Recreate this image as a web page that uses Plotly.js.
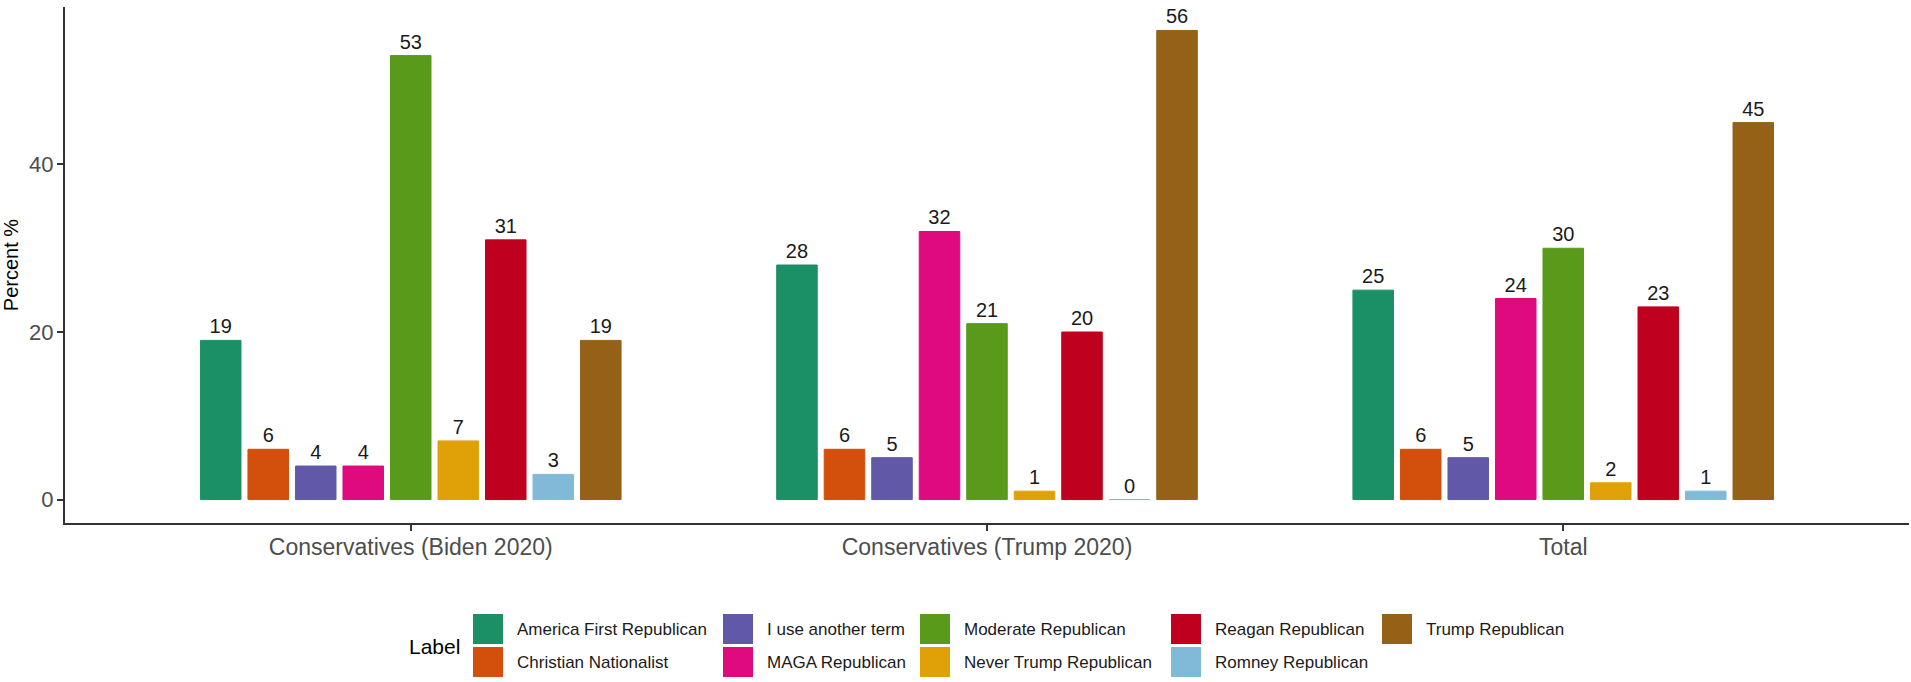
<!DOCTYPE html>
<html><head><meta charset="utf-8">
<script src="https://cdn.plot.ly/plotly-3.0.1.min.js"></script>
<style>html,body{margin:0;padding:0;background:#fff;} #chart{width:1911px;height:682px;}</style>
</head><body><div id="chart"></div>
<script>
// ---- data ----
const groups = ['Conservatives (Biden 2020)', 'Conservatives (Trump 2020)', 'Total'];
const labels = ['America First Republican', 'Christian Nationalist', 'I use another term',
  'MAGA Republican', 'Moderate Republican', 'Never Trump Republican',
  'Reagan Republican', 'Romney Republican', 'Trump Republican'];
const americaFirst = [19, 28, 25];
const christianNationalist = [6, 6, 6];
const anotherTerm = [4, 5, 5];
const maga = [4, 32, 24];
const moderate = [53, 21, 30];
const neverTrump = [7, 1, 2];
const reagan = [31, 20, 23];
const romney = [3, 0, 1];
const trump = [19, 56, 45];
const yTicks = [0, 20, 40];
const series = [americaFirst, christianNationalist, anotherTerm, maga, moderate, neverTrump, reagan, romney, trump];

// ---- styles ----
const colors = ['#1b8f66', '#d24f0c', '#6159a7', '#de0a7e', '#5a9a1a', '#e0a108', '#c0001f', '#80bad8', '#946117'];
const FONT = 'Liberation Sans, Arial, Helvetica, sans-serif';
const W = 1911, H = 682;
const M = {l: 65, r: 2, t: 7, b: 159};
const PW = W - M.l - M.r, PH = H - M.t - M.b;
const px = x => (x - M.l) / PW;
const py = y => (H - M.b - y) / PH;

const traces = series.map((vals, i) => ({
  type: 'bar',
  name: labels[i],
  x: groups,
  y: vals,
  marker: {color: colors[i], line: {color: colors[i], width: 1}},
  text: vals.map(String),
  textposition: 'outside',
  textfont: {family: FONT, size: 20, color: '#1a1a1a'},
  cliponaxis: false,
  showlegend: false,
  hoverinfo: 'x+y+name'
}));

// manual ggplot-style legend (column-major, 2 rows)
const colStarts = [473, 723, 920, 1171, 1382];
const rowTops = [614, 647];
const key = 30;
const shapes = [], annotations = [];
labels.forEach((lab, i) => {
  const cx = colStarts[Math.floor(i / 2)];
  const ry = rowTops[i % 2];
  shapes.push({type: 'rect', xref: 'paper', yref: 'paper',
    x0: px(cx), x1: px(cx + key), y0: py(ry + key), y1: py(ry),
    fillcolor: colors[i], line: {width: 0}});
  annotations.push({xref: 'paper', yref: 'paper', x: px(cx + key + 12), y: py(ry + key / 2),
    xanchor: 'left', yanchor: 'middle', showarrow: false, text: lab,
    font: {family: FONT, size: 17, color: '#1a1a1a'}});
});
annotations.push({xref: 'paper', yref: 'paper', x: px(407), y: py(646),
  xanchor: 'left', yanchor: 'middle', showarrow: false, text: 'Label',
  font: {family: FONT, size: 21, color: '#000'}});

const layout = {
  width: W, height: H,
  margin: M,
  paper_bgcolor: '#fff', plot_bgcolor: '#fff',
  barmode: 'group',
  bargap: 0.258,
  bargroupgap: 0.147,
  showlegend: false,
  font: {family: FONT},
  xaxis: {
    type: 'category', range: [-0.6, 2.6], showgrid: false, zeroline: false,
    showline: true, linecolor: '#333', linewidth: 2,
    ticks: 'outside', ticklen: 6, tickwidth: 2, tickcolor: '#333',
    ticklabelstandoff: -4,
    tickfont: {family: FONT, size: 23, color: '#4d4d4d'}
  },
  yaxis: {
    range: [-2.8, 58.8], showgrid: false, zeroline: false,
    showline: true, linecolor: '#333', linewidth: 2,
    ticks: 'outside', ticklen: 6, tickwidth: 2, tickcolor: '#333',
    ticklabelstandoff: -1,
    tickvals: yTicks, ticktext: yTicks.map(String),
    tickfont: {family: FONT, size: 22, color: '#4d4d4d'},
    title: {text: 'Percent %', font: {family: FONT, size: 20, color: '#000'}, standoff: 8}
  },
  shapes: shapes,
  annotations: annotations
};

Plotly.newPlot('chart', traces, layout, {displayModeBar: false, staticPlot: true});
</script></body></html>
